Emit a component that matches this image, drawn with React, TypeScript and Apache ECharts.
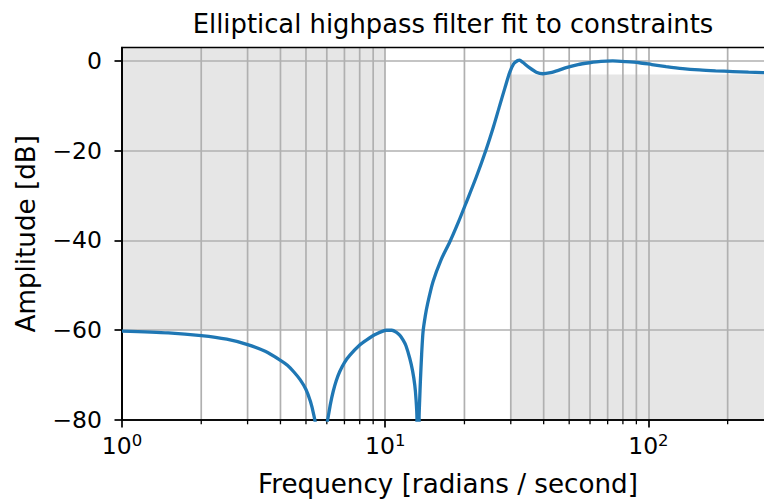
import React, { useEffect, useRef } from 'react';
import * as echarts from 'echarts';

// Frequency response (rad/s, dB)
const freq = [
  1, 1.5, 2, 2.5, 3, 3.5, 4, 4.25, 4.5, 4.75, 5, 5.2, 5.35, 5.45, 5.72, 6.03, 6.06, 6.2, 6.34, 6.52,
  6.72, 7.0, 7.33, 8.0, 8.48, 9.2, 10.1, 10.6, 11.0, 11.35, 11.7, 12.0, 12.4, 12.7, 12.95, 13.1,
  13.2, 13.32, 13.45, 13.52, 13.6, 13.75, 13.92, 14.2, 14.5, 15.19, 16.3, 17.57, 19, 20.33, 22.2,
  24.22, 25.8, 27.2, 28.5, 29.7, 30.8, 31.9, 32.4, 33.3, 35.3, 37.5, 39.7, 42.5, 45.5, 48.7, 54,
  59.7, 66, 73.2, 82, 92.4, 103, 116.7, 135, 156, 180, 209, 240, 271.5, 300,
];
const amplitude = [
  -60.2, -60.6, -61.2, -62.0, -63.2, -64.7, -66.7, -67.8, -69.3, -71.0, -73.2, -75.9, -78.8, -81.5,
  -120, -80.3, -79.6, -76.3, -73.7, -71.2, -69.2, -67.2, -65.6, -63.3, -62.2, -60.9, -60.0, -60.0,
  -60.4, -61.1, -62.2, -63.5, -66.3, -69.0, -72.2, -75.5, -79.5, -130, -79.5, -75.5, -71.5,
  -65.5, -60.4, -56.8, -54, -49.2, -44.3, -40.4, -35.8, -31.5, -25.8, -19.6, -14.6, -10, -6.0,
  -2.6, -0.6, 0.1, 0.2, -0.3, -1.5, -2.5, -2.85, -2.6, -2.1, -1.5, -0.8, -0.4, -0.1, 0, -0.15,
  -0.4, -0.8, -1.25, -1.7, -2.0, -2.2, -2.36, -2.5, -2.6, -2.65,
];

const xMajorTicks = [1, 10, 100];
const xMinorTicks = [2, 3, 4, 5, 6, 7, 8, 9, 20, 30, 40, 50, 60, 70, 80, 90, 200, 300];
const yTicks = [-80, -60, -40, -20, 0];
// constraint regions: [xFrom, xTo, yFrom, yTo]
const stopBand = [1, 10, -60, 3];
const passBand = [30, 300, -80, -3];

const FONT = 'DejaVu Sans';

export default function App() {
  const ref = useRef<HTMLDivElement>(null);
  useEffect(() => {
    document.body.style.margin = '0';
    document.body.style.overflow = 'hidden';
    document.documentElement.style.overflow = 'hidden';
    const chart = echarts.init(ref.current!, null, { renderer: 'svg' });
    chart.setOption({
      animation: false,
      title: {
        text: 'Elliptical highpass filter fit to constraints',
        left: 448,
        textAlign: 'center',
        top: 6,
        textStyle: { fontFamily: FONT, fontSize: 25.8, fontWeight: 'normal', color: '#000' },
      },
      grid: {
        left: 122,
        top: 47.5,
        width: 652,
        height: 374.2,
        show: true,
        borderColor: '#000',
        borderWidth: 1.7,
        backgroundColor: 'transparent',
        z: 3,
      },
      xAxis: {
        type: 'log',
        logBase: 10,
        min: 1,
        max: 300,
        z: 2,
        name: 'Frequency [radians / second]',
        nameLocation: 'middle',
        nameGap: 51,
        nameTextStyle: { fontFamily: FONT, fontSize: 26.2, color: '#000' },
        axisLine: { show: true, onZero: false, lineStyle: { color: '#000', width: 1.7 } },
        axisTick: { show: true, customValues: xMajorTicks, length: 7.5, lineStyle: { color: '#000', width: 1.7 } },
        axisLabel: {
          customValues: xMajorTicks,
          margin: 12,
          color: '#000',
          formatter: (v: number) => `{b|10}{s|${Math.round(Math.log10(v))}}`,
          rich: {
            b: { fontFamily: FONT, fontSize: 23.5, lineHeight: 28, color: '#000' },
            s: { fontFamily: FONT, fontSize: 16.5, lineHeight: 14, verticalAlign: 'top', color: '#000' },
          },
        },
        splitLine: { show: true, lineStyle: { color: '#b0b0b0', width: 1.7 } },
      },
      yAxis: {
        type: 'value',
        min: -80,
        max: 3,
        interval: 20,
        z: 2,
        name: 'Amplitude [dB]',
        nameLocation: 'middle',
        nameRotate: 90,
        nameGap: 83,
        nameTextStyle: { fontFamily: FONT, fontSize: 26.2, color: '#000' },
        axisLine: { show: true, lineStyle: { color: '#000', width: 1.7 } },
        axisTick: { show: true, customValues: yTicks, length: 7.5, lineStyle: { color: '#000', width: 1.7 } },
        axisLabel: {
          customValues: yTicks,
          margin: 20,
          fontFamily: FONT,
          fontSize: 23.5,
          color: '#000',
          formatter: (v: number) => (v < 0 ? '\u2212' + Math.abs(v) : String(v)),
        },
        splitLine: { show: true, lineStyle: { color: '#b0b0b0', width: 1.7 } },
      },
      series: [
        {
          type: 'custom',
          z: 1,
          silent: true,
          data: [stopBand, passBand],
          renderItem: (params: any, api: any) => {
            const p1 = api.coord([api.value(0), api.value(3)]);
            const p2 = api.coord([api.value(1), api.value(2)]);
            return {
              type: 'rect',
              shape: { x: p1[0], y: p1[1], width: p2[0] - p1[0], height: p2[1] - p1[1] },
              style: { fill: '#e6e6e6' },
            };
          },
        },
        {
          type: 'custom',
          z: 2,
          silent: true,
          data: xMinorTicks.map((v) => [v, -80]),
          renderItem: (params: any, api: any) => {
            const x = api.coord([api.value(0), -80])[0];
            const top = params.coordSys.y;
            const bottom = params.coordSys.y + params.coordSys.height;
            return {
              type: 'group',
              children: [
                { type: 'line', shape: { x1: x, y1: top, x2: x, y2: bottom }, style: { stroke: '#b0b0b0', lineWidth: 1.7 } },
                { type: 'line', shape: { x1: x, y1: bottom, x2: x, y2: bottom + 4.3 }, style: { stroke: '#000', lineWidth: 1.3 } },
              ],
            };
          },
        },
        {
          type: 'line',
          z: 3,
          data: freq.map((f, i) => [f, amplitude[i]]),
          showSymbol: false,
          clip: true,
          smooth: 0.25,
          lineStyle: { color: '#1f77b4', width: 3.3 },
        },
      ],
    });
    return () => chart.dispose();
  }, []);
  return <div ref={ref} style={{ width: 790, height: 502 }} />;
}
